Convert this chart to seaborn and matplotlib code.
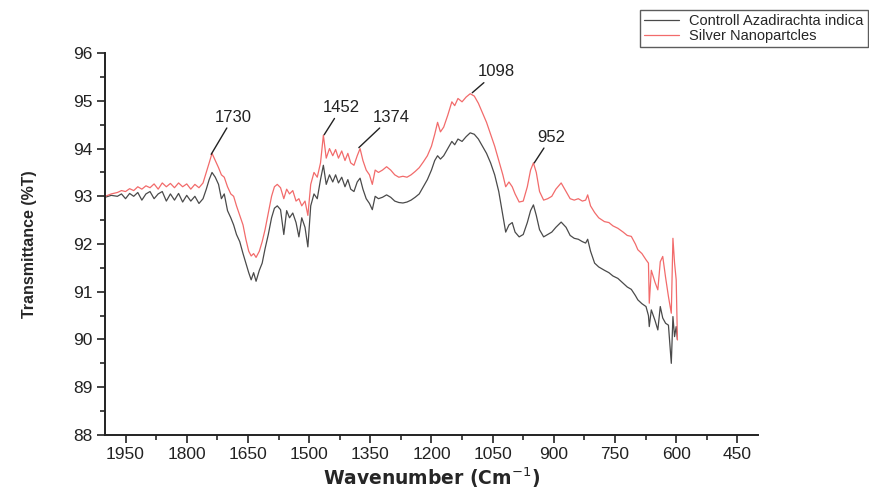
import pandas as pd
import matplotlib.pyplot as plt
import seaborn as sns
from matplotlib.ticker import MultipleLocator

# values
wavenumber = [2000, 1985, 1970, 1960, 1950, 1940, 1930, 1920, 1910, 1900,
              1890, 1880, 1870, 1860, 1850, 1840, 1830, 1820, 1810, 1800,
              1790, 1780, 1770, 1760, 1752, 1745, 1738, 1730, 1722, 1715,
              1708, 1700, 1692, 1685, 1678, 1670, 1662, 1655, 1648, 1642,
              1636, 1630, 1622, 1615, 1608, 1600, 1592, 1585, 1578, 1570,
              1562, 1555, 1548, 1540, 1532, 1525, 1518, 1510, 1503, 1496,
              1488, 1480, 1472, 1465, 1458, 1450, 1442, 1435, 1428, 1420,
              1412, 1405, 1398, 1390, 1382, 1375, 1368, 1360, 1352, 1345,
              1338, 1330, 1320, 1310, 1300, 1290, 1280, 1270, 1260, 1250,
              1240, 1230, 1220, 1210, 1200, 1192, 1185, 1178, 1170, 1160,
              1150, 1143, 1135, 1125, 1115, 1105, 1095, 1085, 1075, 1065,
              1055, 1045, 1035, 1025, 1018, 1010, 1002, 995, 985, 975,
              965, 957, 950, 943, 935, 925, 915, 905, 895, 882,
              870, 860, 850, 840, 830, 822, 817, 810, 800, 790,
              776, 765, 755, 743, 730, 720, 710, 700, 694, 684,
              674, 668, 666, 661, 652, 645, 639, 633, 626, 619,
              612, 608, 604, 600, 597]

control = [92.98, 93.02, 93.00, 93.05, 92.95, 93.06, 93.00, 93.08, 92.92, 93.05,
           93.10, 92.95, 93.05, 93.10, 92.90, 93.05, 92.92, 93.06, 92.88, 93.02,
           92.90, 93.00, 92.85, 92.95, 93.15, 93.35, 93.50, 93.40, 93.25, 92.95,
           93.05, 92.70, 92.55, 92.40, 92.20, 92.05, 91.80, 91.60, 91.40, 91.25,
           91.40, 91.22, 91.45, 91.60, 91.90, 92.20, 92.55, 92.75, 92.80, 92.72,
           92.20, 92.70, 92.55, 92.65, 92.45, 92.15, 92.55, 92.35, 91.94, 92.80,
           93.05, 92.95, 93.35, 93.65, 93.25, 93.45, 93.30, 93.45, 93.28, 93.40,
           93.20, 93.35, 93.15, 93.10, 93.30, 93.38, 93.15, 92.95, 92.85, 92.72,
           93.00, 92.95, 92.98, 93.03, 92.98, 92.90, 92.87, 92.86, 92.88, 92.92,
           92.98, 93.05, 93.20, 93.35, 93.55, 93.75, 93.85, 93.78, 93.85, 94.00,
           94.15, 94.08, 94.20, 94.15, 94.25, 94.33, 94.30, 94.20, 94.05, 93.90,
           93.70, 93.45, 93.10, 92.60, 92.25, 92.40, 92.45, 92.25, 92.15, 92.20,
           92.45, 92.70, 92.82, 92.60, 92.30, 92.15, 92.20, 92.25, 92.35, 92.46,
           92.35, 92.18, 92.12, 92.10, 92.05, 92.02, 92.10, 91.85, 91.60, 91.52,
           91.45, 91.40, 91.33, 91.28, 91.18, 91.10, 91.05, 90.92, 90.83, 90.75,
           90.69, 90.50, 90.27, 90.62, 90.40, 90.20, 90.69, 90.45, 90.34, 90.30,
           89.50, 90.48, 90.06, 90.27, 90.00]

silver = [93.00, 93.05, 93.08, 93.12, 93.10, 93.16, 93.12, 93.20, 93.15, 93.22,
          93.18, 93.26, 93.15, 93.28, 93.20, 93.27, 93.18, 93.28, 93.20, 93.26,
          93.15, 93.25, 93.18, 93.28, 93.50, 93.70, 93.90, 93.75, 93.60, 93.45,
          93.40, 93.20, 93.05, 93.00, 92.80, 92.60, 92.40, 92.10, 91.85, 91.75,
          91.80, 91.72, 91.85, 92.05, 92.30, 92.65, 93.00, 93.20, 93.25, 93.18,
          92.95, 93.15, 93.05, 93.12, 92.90, 92.95, 92.80, 92.90, 92.60, 93.25,
          93.50, 93.40, 93.70, 94.28, 93.80, 94.00, 93.85, 93.98, 93.80, 93.95,
          93.75, 93.90, 93.70, 93.65, 93.85, 94.00, 93.75, 93.55, 93.45, 93.25,
          93.55, 93.50, 93.55, 93.62, 93.55, 93.45, 93.40, 93.42, 93.40, 93.45,
          93.52, 93.60, 93.72, 93.85, 94.05, 94.30, 94.55, 94.35, 94.45, 94.70,
          94.98, 94.90, 95.05, 94.98, 95.08, 95.15, 95.10, 94.95, 94.75, 94.55,
          94.30, 94.05, 93.75, 93.45, 93.20, 93.30, 93.20, 93.05, 92.88, 92.90,
          93.20, 93.55, 93.70, 93.50, 93.10, 92.92, 92.95, 93.00, 93.15, 93.28,
          93.10, 92.95, 92.92, 92.95, 92.90, 92.92, 93.03, 92.80, 92.66, 92.55,
          92.47, 92.45, 92.38, 92.33, 92.25, 92.18, 92.16, 92.00, 91.88, 91.80,
          91.67, 91.60, 90.76, 91.45, 91.20, 91.04, 91.63, 91.74, 91.30, 90.90,
          90.55, 92.12, 91.60, 91.25, 89.99]

series_names = ['Controll Azadirachta indica', 'Silver Nanopartcles']
series_colors = ['#4a4a4a', '#f26b6b']

# peak labels: (label, peak wn, peak T, text wn, text T)
peak_labels = ['1730', '1452', '1374', '1098', '952']
peak_wn = [1740, 1463, 1378, 1100, 948]
peak_t = [93.88, 94.29, 94.02, 95.17, 93.70]
text_wn = [1686, 1421, 1299, 1041, 907]
text_t = [94.50, 94.70, 94.50, 95.45, 94.08]

df = pd.DataFrame({
    'wavenumber': wavenumber * 2,
    'T': control + silver,
    'sample': [series_names[0]] * len(control) + [series_names[1]] * len(silver),
})

sns.set_style('ticks')
plt.rcParams['font.family'] = ['Liberation Sans', 'DejaVu Sans']

fig = plt.figure(figsize=(8.69, 4.92), dpi=100)
ax = fig.add_axes([0.121, 0.116, 0.751, 0.776])

sns.lineplot(data=df, x='wavenumber', y='T', hue='sample',
             palette=dict(zip(series_names, series_colors)),
             sort=False, estimator=None, linewidth=0.9, ax=ax)

ax.set_xlim(2000, 400)
ax.set_ylim(88, 96)
ax.xaxis.set_minor_locator(MultipleLocator(75))
ax.yaxis.set_major_locator(MultipleLocator(1))
ax.yaxis.set_minor_locator(MultipleLocator(0.5))
ax.set_xticks([1950, 1800, 1650, 1500, 1350, 1200, 1050, 900, 750, 600, 450])
ax.tick_params(which='major', length=6, width=1.2, labelsize=12.5,
               colors='#222222', pad=3)
ax.tick_params(which='minor', length=3.5, width=1.2)
for s in ['left', 'bottom']:
    ax.spines[s].set_linewidth(1.4)
    ax.spines[s].set_color('#222222')
sns.despine(ax=ax)

ax.set_xlabel('Wavenumber (Cm$^{-1}$)', fontsize=13.5, fontweight='bold',
              family='DejaVu Sans', labelpad=2)
ax.set_ylabel('Transmittance (%T)', fontsize=11.5, fontweight='bold',
              labelpad=26)

for lab, px, py, tx, ty in zip(peak_labels, peak_wn, peak_t, text_wn, text_t):
    ax.annotate(lab, xy=(px, py), xytext=(tx, ty), textcoords='data',
                ha='center', va='bottom', fontsize=12, color='#222222',
                arrowprops=dict(arrowstyle='-', color='#222222', lw=1,
                                shrinkA=0, shrinkB=0))

leg = ax.legend(loc='upper right', bbox_to_anchor=(0.999, 0.98),
                bbox_transform=fig.transFigure, borderaxespad=0,
                fontsize=10.5, frameon=True, fancybox=False,
                edgecolor='#333333', handlelength=2.4, handletextpad=0.7,
                borderpad=0.3, labelspacing=0.05, title=None)
leg.get_frame().set_linewidth(1)

plt.savefig('out.png', dpi=100)
